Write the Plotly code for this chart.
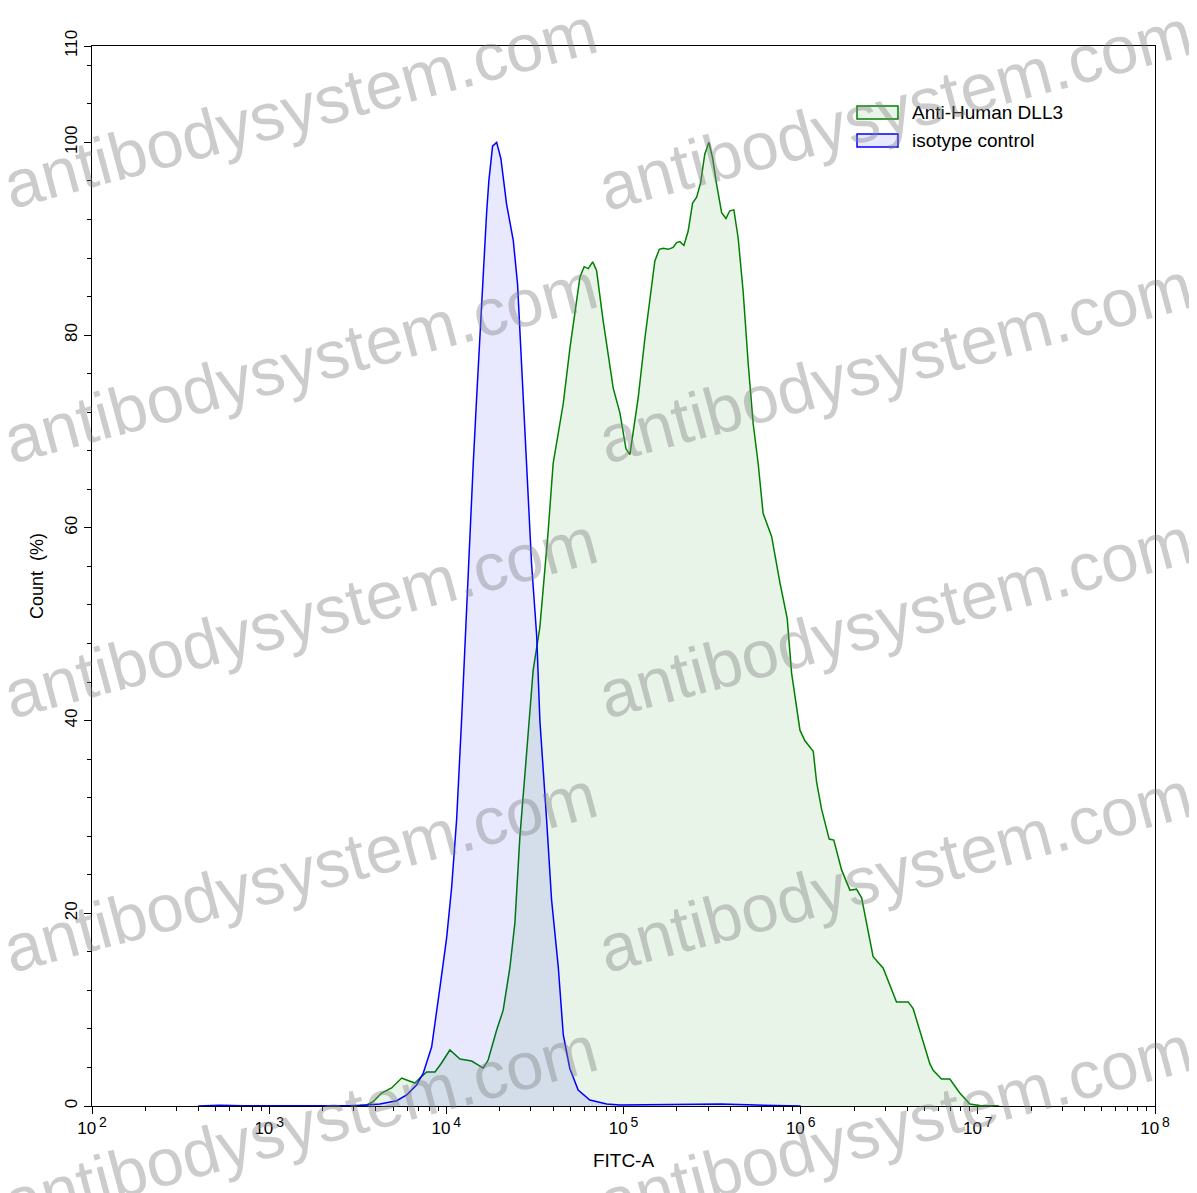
import plotly.graph_objects as go

# ---- data (x as log10 of FITC-A intensity, y in % of max count) ----
iso_log10 = [2.60, 2.72, 2.85, 3.20, 3.40, 3.512, 3.625, 3.720, 3.776, 3.832, 3.870, 3.917, 3.964,
             4.002, 4.030, 4.058, 4.086, 4.111, 4.133, 4.152, 4.171, 4.190, 4.208, 4.227, 4.240,
             4.261, 4.284, 4.308, 4.340, 4.378, 4.402, 4.425, 4.453, 4.481, 4.510, 4.528, 4.566,
             4.594, 4.632, 4.660, 4.697, 4.744, 4.810, 4.905, 4.980, 5.20, 5.40, 5.55, 5.70, 5.85, 6.00]
iso_pct = [0.0, 0.08, 0.03, 0.02, 0.03, 0.05, 0.2, 0.55, 1.14, 2.18, 3.42, 6.12, 12.3,
           17.5, 22.7, 29.7, 40.0, 50.4, 58.0, 66.7, 73.5, 80.5, 86.7, 92.6, 96.0,
           99.6, 100.0, 98.3, 93.6, 89.8, 85.3, 77.0, 66.7, 56.3, 48.8, 40.0, 29.7,
           21.4, 14.4, 7.4, 3.9, 1.66, 0.62, 0.2, 0.1, 0.12, 0.2, 0.22, 0.12, 0.06, 0.0]

dll3_log10 = [3.40, 3.50, 3.550, 3.587, 3.635, 3.691, 3.748, 3.776, 3.823, 3.851, 3.889, 3.936,
              3.973, 4.020, 4.077, 4.143, 4.208, 4.236, 4.284, 4.321, 4.359, 4.387, 4.415, 4.453,
              4.490, 4.528, 4.575, 4.603, 4.641, 4.660, 4.698, 4.754, 4.778, 4.801, 4.826, 4.848,
              4.885, 4.914, 4.942, 4.980, 5.014, 5.036, 5.055, 5.083, 5.121, 5.149, 5.177, 5.202,
              5.224, 5.252, 5.280, 5.300, 5.318, 5.341, 5.365, 5.390, 5.413, 5.435, 5.459, 5.482,
              5.503, 5.525, 5.554, 5.578, 5.600, 5.623, 5.647, 5.675, 5.704, 5.732, 5.760, 5.788,
              5.836, 5.883, 5.924, 5.949, 5.977, 5.996, 6.024, 6.071, 6.090, 6.118, 6.161, 6.187,
              6.231, 6.278, 6.315, 6.344, 6.409, 6.466, 6.541, 6.607, 6.635, 6.729, 6.748, 6.795,
              6.842, 6.898, 6.955, 7.011, 7.085, 7.12]
dll3_pct = [0.0, 0.02, 0.1, 0.45, 1.35, 1.87, 2.90, 2.70, 2.38, 2.90, 3.53, 3.53,
            4.46, 5.81, 4.87, 4.67, 3.94, 4.77, 7.88, 9.95, 14.4, 19.0, 27.9, 36.6,
            45.2, 49.7, 59.7, 66.7, 70.6, 72.9, 78.7, 86.0, 87.1, 86.9, 87.6, 86.7,
            81.5, 78.1, 74.5, 71.9, 68.2, 67.6, 70.1, 73.5, 79.7, 83.9, 87.7, 88.9,
            89.0, 88.9, 89.1, 89.6, 89.7, 89.3, 90.8, 93.7, 94.3, 95.8, 98.8, 100.0,
            98.4, 95.7, 92.7, 92.1, 92.9, 93.0, 90.1, 84.6, 77.0, 70.8, 66.7, 61.5,
            59.1, 54.3, 50.6, 44.9, 41.2, 39.0, 37.9, 36.8, 33.6, 30.8, 27.7, 27.6,
            24.5, 22.4, 22.5, 21.6, 15.5, 14.3, 10.8, 10.8, 10.1, 4.4, 3.7, 2.8,
            2.8, 1.35, 0.2, 0.05, 0.02, 0.0]

series_names = ["Anti-Human DLL3", "isotype control"]
series_lines = ["#008000", "#0000FF"]
series_fills = ["rgba(0,128,0,0.09)", "rgba(0,0,255,0.09)"]
x_exponents = [2, 3, 4, 5, 6, 7, 8]
x_ticklabels = [f"10<sup><span style='font-size:14px'>\u2009{e}</span></sup>" for e in x_exponents]
y_tickvals = [0, 20, 40, 60, 80, 100, 110]

FONT = "Liberation Sans, Arial, sans-serif"

# page offset (body margin) compensation: plot area at px 92..1155 x 45..1106
W, H = 1189, 1185
ML, MR, MT, MB = 84, 42, 38, 87
PW, PH = W - ML - MR, H - MT - MB
OFF = 8


def px_to_paper(px, py):
    return (px - OFF - ML) / PW, (H - MB - (py - OFF)) / PH


fig = go.Figure()
fig.add_trace(go.Scatter(
    x=[10 ** v for v in dll3_log10], y=dll3_pct, name=series_names[0],
    mode="lines", line=dict(color=series_lines[0], width=1.5),
    fill="tozeroy", fillcolor=series_fills[0], showlegend=False))
fig.add_trace(go.Scatter(
    x=[10 ** v for v in iso_log10], y=iso_pct, name=series_names[1],
    mode="lines", line=dict(color=series_lines[1], width=1.5),
    fill="tozeroy", fillcolor=series_fills[1], showlegend=False))

minor_x = [m * 10 ** e for e in range(2, 8) for m in range(2, 10)]

fig.update_layout(
    width=W, height=H,
    margin=dict(l=ML, r=MR, t=MT, b=MB),
    paper_bgcolor="white", plot_bgcolor="white",
    font=dict(family=FONT, size=19, color="black"),
    xaxis=dict(type="log", range=[2, 8], tickmode="array",
               tickvals=[10 ** e for e in x_exponents], ticktext=x_ticklabels,
               ticks="outside", ticklen=7, tickwidth=1, tickcolor="black",
               showline=True, linecolor="black", linewidth=1, mirror=True,
               showgrid=False, zeroline=False,
               tickfont=dict(size=17, family=FONT),
               minor=dict(tickmode="array", tickvals=minor_x, ticks="outside",
                          ticklen=4, tickcolor="black", showgrid=False),
               title=dict(text="FITC-A", font=dict(size=19, family=FONT), standoff=16)),
    yaxis=dict(range=[0, 110], tickmode="array", tickvals=y_tickvals,
               ticktext=[str(v) for v in y_tickvals], tickangle=-90,
               ticks="outside", ticklen=7, tickwidth=1, tickcolor="black",
               showline=True, linecolor="black", linewidth=1, mirror=True,
               showgrid=False, zeroline=False,
               tickfont=dict(size=17, family=FONT),
               minor=dict(tick0=0, dtick=4, ticks="outside", ticklen=4,
                          tickcolor="black", showgrid=False),
               title=dict(text="Count\u00a0\u00a0(%)", font=dict(size=18, family=FONT), standoff=13)),
)

# legend drawn as boxed swatches
legend_rows_py = [112.5, 140.5]
for name, lc, fc, py in zip(series_names, series_lines, series_fills, legend_rows_py):
    x0, y0 = px_to_paper(857, py + 6.5)
    x1, y1 = px_to_paper(898, py - 6.5)
    fig.add_shape(type="rect", xref="paper", yref="paper", x0=x0, x1=x1, y0=y0, y1=y1,
                  line=dict(color=lc, width=1.5), fillcolor=fc)
    tx, ty = px_to_paper(910, py)
    fig.add_annotation(x=tx, y=ty, xref="paper", yref="paper", text=name, showarrow=False,
                       xanchor="left", yanchor="middle",
                       font=dict(size=19, family=FONT, color="black"))

# watermark text
wm_centers_px = [(300, 108), (300, 362), (300, 617), (300, 872), (300, 1125),
                 (895, 110), (895, 362), (895, 617), (895, 872), (895, 1125)]
for cx, cy in wm_centers_px:
    wx, wy = px_to_paper(cx, cy)
    fig.add_annotation(
        x=wx, y=wy, xref="paper", yref="paper",
        text="antibodysystem.com", showarrow=False, textangle=-15,
        font=dict(size=67, family=FONT, color="rgba(128,128,128,0.40)"),
        xanchor="center", yanchor="middle")

fig.write_html("out.html")
